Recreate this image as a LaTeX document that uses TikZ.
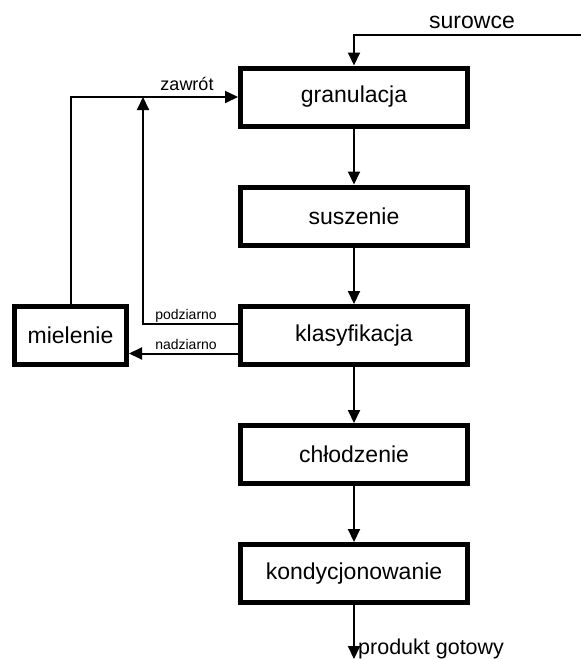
\documentclass[tikz,border=0pt]{standalone}
\usepackage{fontspec}
\setmainfont{Liberation Sans}
\usetikzlibrary{arrows.meta}
\begin{document}
\begin{tikzpicture}[x=1pt,y=-1pt,
  box/.style={draw,line width=5pt,minimum width=227pt,minimum height=58pt,inner sep=0pt,
    font=\fontsize{23}{27}\selectfont},
  mbox/.style={box,minimum width=112pt},
  arr/.style={line width=2pt,-{Triangle[length=13pt,width=12pt]}},
  ln/.style={line width=2pt},
  big/.style={font=\fontsize{23}{27}\selectfont,inner sep=0pt},
  mid/.style={font=\fontsize{18}{22}\selectfont,inner sep=0pt},
  small/.style={font=\fontsize{14}{17}\selectfont,inner sep=0pt}]
\useasboundingbox (0,0) rectangle (581,659);
\node[box] (gran) at (354,97) {granulacja};
\node[box] (sus) at (354,216) {suszenie};
\node[box] (klas) at (354,335.5) {klasyfikacja};
\node[box] (chl) at (354,454.5) {chłodzenie};
\node[box] (kond) at (354,573.5) {kondycjonowanie};
\node[mbox] (miel) at (70.5,335.5) {mielenie};
\coordinate (sin) at (581,35);
\coordinate (ztip) at (143,97);
\coordinate (out) at (354,659);
\draw[arr] (sin) -| (gran.north);
\node[big] (lsur) at (472,22) {surowce};
\draw[arr] (gran) -- (sus);
\draw[arr] (sus) -- (klas);
\draw[arr] (klas) -- (chl);
\draw[arr] (chl) -- (kond);
\draw[arr] (kond) -- (out);
\node[font=\fontsize{21.5}{25}\selectfont,inner sep=0pt,anchor=west] (lprod) at (358,649) {produkt gotowy};
\draw[arr] (miel.north) |- (gran.west);
\node[mid] (lzaw) at (187,84) {zawrót};
\draw[arr] ([yshift=12pt]klas.west) -| (ztip);
\node[small] (lpod) at (186,316) {podziarno};
\draw[arr] ([yshift=-18pt]klas.west) -- ([yshift=-18pt]miel.east);
\node[small] (lnad) at (186,344) {nadziarno};
\end{tikzpicture}
\end{document}
